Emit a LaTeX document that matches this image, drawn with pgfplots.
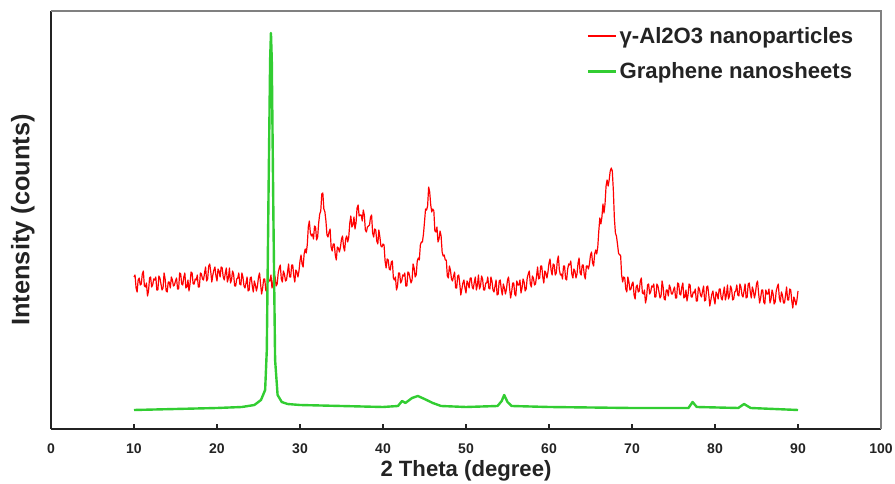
\documentclass[border=0pt]{standalone}
\usepackage{fontspec}
\setmainfont{Liberation Sans}
\usepackage{pgfplots}
\usepackage{pgfplotstable}
\pgfplotsset{compat=1.18}
\definecolor{xrdred}{RGB}{255,0,0}
\definecolor{xrdgreen}{RGB}{50,205,50}
\definecolor{axdark}{RGB}{35,35,35}
\definecolor{axgray}{RGB}{128,128,128}

\pgfplotstableread{
x y
10.000 152
10.125 154
10.250 141
10.375 137
10.500 149
10.625 151
10.750 144
10.875 145
11.000 155
11.125 158
11.250 143
11.375 142
11.500 146
11.625 133
11.750 138
11.875 151
12.000 152
12.125 142
12.250 144
12.375 150
12.500 149
12.625 152
12.750 139
12.875 139
13.000 153
13.125 151
13.250 145
13.375 139
13.500 141
13.625 156
13.750 150
13.875 138
14.000 137
14.125 147
14.250 147
14.375 141
14.500 152
14.625 149
14.750 143
14.875 144
15.000 148
15.125 151
15.250 140
15.375 140
15.500 156
15.625 155
15.750 145
15.875 144
16.000 152
16.125 156
16.250 141
16.375 142
16.500 149
16.625 138
16.750 145
16.875 157
17.000 156
17.125 145
17.250 145
17.375 150
17.500 149
17.625 154
17.750 142
17.875 142
18.000 156
18.125 155
18.250 150
18.375 149
18.500 156
18.625 162
18.750 148
18.875 150
19.000 163
19.125 165
19.250 157
19.375 147
19.500 154
19.625 159
19.750 162
19.875 153
20.000 148
20.125 160
20.250 158
20.375 152
20.500 162
20.625 161
20.750 152
20.875 149
21.000 156
21.125 161
21.250 147
21.375 151
21.500 161
21.625 146
21.750 149
21.875 158
22.000 155
22.125 143
22.250 143
22.375 150
22.500 151
22.625 156
22.750 145
22.875 144
23.000 156
23.125 152
23.250 143
23.375 141
23.500 146
23.625 152
23.750 138
23.875 139
24.000 151
24.125 152
24.250 143
24.375 137
24.500 148
24.625 144
24.750 138
24.875 143
25.000 152
25.125 156
25.250 145
25.375 135
25.500 141
25.625 150
25.750 150
25.875 139
26.000 137
26.125 152
26.250 148
26.375 148
26.500 154
26.625 141
26.750 146
26.875 155
27.000 152
27.125 143
27.250 145
27.375 156
27.500 161
27.625 164
27.750 150
27.875 147
28.000 158
28.125 155
28.250 148
28.375 149
28.500 157
28.625 165
28.750 152
28.875 152
29.000 164
29.125 164
29.250 153
29.375 147
29.500 159
29.625 157
29.750 152
29.875 158
30.000 168
30.125 174
30.250 165
30.375 162
30.500 175
30.625 180
30.750 176
30.875 184
31.000 202
31.125 208
31.250 196
31.375 193
31.500 195
31.625 190
31.750 203
31.875 202
32.000 189
32.125 192
32.250 206
32.375 215
32.500 218
32.625 235
32.750 236
32.875 220
33.000 217
33.125 208
33.250 194
33.375 192
33.500 197
33.625 200
33.750 182
33.875 178
34.000 185
34.125 185
34.250 174
34.375 169
34.500 182
34.625 181
34.750 177
34.875 182
35.000 190
35.125 193
35.250 182
35.375 178
35.500 190
35.625 193
35.750 187
35.875 192
36.000 206
36.125 213
36.250 202
36.375 204
36.500 212
36.625 200
36.750 206
36.875 221
37.000 224
37.125 213
37.250 214
37.375 214
37.500 208
37.625 219
37.750 214
37.875 199
38.000 197
38.125 202
38.250 203
38.375 204
38.500 212
38.625 214
38.750 196
38.875 192
39.000 200
39.125 199
39.250 188
39.375 185
39.500 199
39.625 192
39.750 183
39.875 182
40.000 185
40.125 184
40.250 168
40.375 161
40.500 170
40.625 169
40.750 160
40.875 159
41.000 167
41.125 168
41.250 151
41.375 149
41.500 152
41.625 139
41.750 143
41.875 156
42.000 156
42.125 146
42.250 148
42.375 154
42.500 153
42.625 156
42.750 143
42.875 143
43.000 157
43.125 156
43.250 151
43.375 146
43.500 149
43.625 165
43.750 161
43.875 152
44.000 154
44.125 168
44.250 171
44.375 169
44.500 184
44.625 187
44.750 187
44.875 195
45.000 207
45.125 220
45.250 219
45.375 223
45.500 242
45.625 237
45.750 224
45.875 217
46.000 220
46.125 218
46.250 198
46.375 197
46.500 202
46.625 187
46.750 190
46.875 198
47.000 193
47.125 177
47.250 173
47.375 174
47.500 169
47.625 169
47.750 153
47.875 151
48.000 163
48.125 159
48.250 150
48.375 148
48.500 153
48.625 157
48.750 141
48.875 141
49.000 153
49.125 154
49.250 145
49.375 134
49.500 140
49.625 146
49.750 149
49.875 141
50.000 136
50.125 148
50.250 146
50.375 141
50.500 151
50.625 151
50.750 142
50.875 140
51.000 147
51.125 152
51.250 139
51.375 144
51.500 154
51.625 140
51.750 143
51.875 153
52.000 150
52.125 139
52.250 139
52.375 146
52.500 146
52.625 152
52.750 141
52.875 140
53.000 152
53.125 148
53.250 139
53.375 137
53.500 143
53.625 149
53.750 134
53.875 135
54.000 148
54.125 149
54.250 140
54.375 134
54.500 145
54.625 141
54.750 135
54.875 140
55.000 149
55.125 152
55.250 141
55.375 131
55.500 137
55.625 146
55.750 146
55.875 135
56.000 133
56.125 148
56.250 144
56.375 144
56.500 149
56.625 136
56.750 141
56.875 150
57.000 147
57.125 138
57.250 140
57.375 151
57.500 155
57.625 158
57.750 145
57.875 142
58.000 153
58.125 151
58.250 144
58.375 145
58.500 153
58.625 162
58.750 150
58.875 151
59.000 163
59.125 163
59.250 152
59.375 146
59.500 158
59.625 156
59.750 151
59.875 157
60.000 166
60.125 170
60.250 159
60.375 154
60.500 165
60.625 164
60.750 154
60.875 156
61.000 168
61.125 173
61.250 159
61.375 154
61.500 155
61.625 150
61.750 163
61.875 163
62.000 150
62.125 149
62.250 160
62.375 165
62.500 164
62.625 168
62.750 155
62.875 151
63.000 160
63.125 158
63.250 151
63.375 155
63.500 166
63.625 171
63.750 156
63.875 154
64.000 164
64.125 164
64.250 154
64.375 150
64.500 163
64.625 163
64.750 160
64.875 165
65.000 174
65.125 177
65.250 166
65.375 163
65.500 175
65.625 179
65.750 175
65.875 182
66.000 198
66.125 211
66.250 205
66.375 212
66.500 225
66.625 216
66.750 225
66.875 243
67.000 249
67.125 243
67.250 249
67.375 258
67.500 261
67.625 258
67.750 239
67.875 211
68.000 196
68.125 193
68.250 185
68.375 176
68.500 174
68.625 174
68.750 154
68.875 147
69.000 152
69.125 151
69.250 140
69.375 137
69.500 152
69.625 147
69.750 139
69.875 140
70.000 145
70.125 147
70.250 134
70.375 130
70.500 142
70.625 144
70.750 137
70.875 138
71.000 148
71.125 151
71.250 136
71.375 135
71.500 139
71.625 126
71.750 131
71.875 144
72.000 145
72.125 135
72.250 137
72.375 143
72.500 142
72.625 145
72.750 132
72.875 132
73.000 145
73.125 143
73.250 137
73.375 131
73.500 133
73.625 148
73.750 142
73.875 130
74.000 129
74.125 139
74.250 139
74.375 133
74.500 144
74.625 141
74.750 135
74.875 135
75.000 139
75.125 142
75.250 131
75.375 131
75.500 146
75.625 145
75.750 135
75.875 134
76.000 142
76.125 146
76.250 131
76.375 132
76.500 139
76.625 128
76.750 134
76.875 145
77.000 144
77.125 132
77.250 132
77.375 137
77.500 136
77.625 140
77.750 128
77.875 128
78.000 142
78.125 140
78.250 134
78.375 132
78.500 138
78.625 143
78.750 128
78.875 129
79.000 142
79.125 143
79.250 134
79.375 123
79.500 129
79.625 135
79.750 138
79.875 130
80.000 125
80.125 137
80.250 135
80.375 130
80.500 140
80.625 140
80.750 131
80.875 129
81.000 136
81.125 142
81.250 129
81.375 134
81.500 144
81.625 130
81.750 133
81.875 143
82.000 140
82.125 129
82.250 130
82.375 137
82.500 138
82.625 144
82.750 134
82.875 133
83.000 145
83.125 142
83.250 134
83.375 132
83.500 138
83.625 145
83.750 131
83.875 132
84.000 145
84.125 146
84.250 137
84.375 131
84.500 142
84.625 138
84.750 131
84.875 136
85.000 145
85.125 148
85.250 136
85.375 126
85.500 131
85.625 139
85.750 139
85.875 127
86.000 125
86.125 139
86.250 135
86.375 135
86.500 140
86.625 126
86.750 130
86.875 139
87.000 135
87.125 125
87.250 127
87.375 138
87.500 142
87.625 145
87.750 131
87.875 127
88.000 137
88.125 134
88.250 126
88.375 126
88.500 134
88.625 142
88.750 129
88.875 129
89.000 140
89.125 139
89.250 128
89.375 121
89.500 132
89.625 129
89.750 124
89.875 129
90.000 138
}\alumina

\pgfplotstableread{
x y
10.0 19
12.5 19.5
15.0 20
17.5 20.5
20.0 21
23.0 22
24.5 24
25.3 29
25.8 39
26.0 79
26.2 229
26.4 369
26.5 396
26.6 369
26.8 209
27.0 69
27.3 34
27.8 27
28.5 25
30.0 24
35.0 23
40.0 22
41.8 23
42.3 28
42.7 26
43.5 31
44.2 33
45.0 30
46.0 26
47.0 23
50.0 22
53.8 23
54.3 28
54.6 34
55.0 27
55.5 23
60.0 22
70.0 21
76.8 21
77.3 27
77.8 22
82.8 21
83.5 25
84.3 21
90.0 19
}\graphene

\begin{document}
\begin{tikzpicture}
\begin{axis}[
  name=ax,
  scale only axis,
  width=622.5pt, height=313.5pt,
  xmin=0, xmax=100, ymin=0, ymax=418,
  clip=false,
  axis x line*=bottom, axis y line*=left,
  axis line style={-, line width=1.1pt, draw=axdark},
  xtick={0,10,...,100}, ytick=\empty,
  tick align=inside, major tick length=4pt,
  tick style={line width=1pt, draw=axdark},
  /pgf/number format/assume math mode=true,
  xticklabel style={font=\bfseries\fontsize{10.5}{12}\selectfont, text=axdark, yshift=-7.5pt},
  xlabel={2 Theta (degree)},
  ylabel={Intensity (counts)},
  xlabel style={font=\bfseries\fontsize{16.6}{19}\selectfont, text=axdark, at={(axis description cs:0.5,-0.1)}, anchor=center},
  ylabel style={font=\bfseries\fontsize{19}{22}\selectfont, text=axdark, at={(axis description cs:-0.034,0.5)}, anchor=center},
  legend style={at={(axis description cs:0.975,0.975)}, anchor=north east, draw=none, fill=none,
    font=\bfseries\fontsize{16.6}{19}\selectfont, text=axdark, row sep=9pt},
  legend cell align=left,
  legend image code/.code={\draw[#1] (0pt,0pt) -- (21pt,0pt);},
]
\addplot[xrdred, line width=0.9pt, line join=round] table[x=x,y=y] {\alumina};
\addlegendentry{γ-Al2O3 nanoparticles}
\addplot[xrdgreen, line width=1.8pt, line join=round] table[x=x,y=y] {\graphene};
\addlegendentry{Graphene nanosheets}
\draw[axgray, line width=1.1pt] (rel axis cs:0,1) -- (rel axis cs:1,1) -- (rel axis cs:1,0);
\end{axis}
\pgfresetboundingbox
\path[use as bounding box] ([shift={(-38.25pt,-41.25pt)}]ax.south west) rectangle ([shift={(10.5pt,8.25pt)}]ax.north east);
\end{tikzpicture}
\end{document}
